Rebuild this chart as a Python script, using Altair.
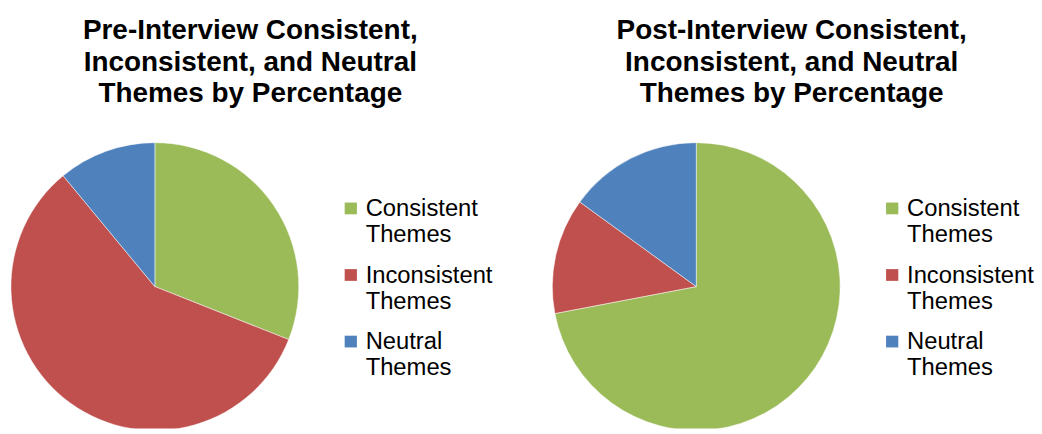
import altair as alt
import pandas as pd

themes = ["Consistent Themes", "Inconsistent Themes", "Neutral Themes"]
pre_values = [31, 58, 11]
post_values = [72, 13, 15]
colors = ["#9BBB59", "#C0504D", "#4F81BD"]
pre_title = ["Pre-Interview Consistent,", "Inconsistent, and Neutral", "Themes by Percentage"]
post_title = ["Post-Interview Consistent,", "Inconsistent, and Neutral", "Themes by Percentage"]

FONT = "Liberation Sans"
# square symbol shifted up so it sits beside the first label line
SQUARE = "M-1,-2.24L1,-2.24L1,-0.32L-1,-0.32Z"


def pie(values, title):
    df = pd.DataFrame({"theme": themes, "value": values, "idx": [0, 1, 2]})
    return (
        alt.Chart(df)
        .mark_arc(radius=147, clip=True, stroke="#ffffff", strokeWidth=0.5)
        .encode(
            theta=alt.Theta("value:Q", stack=True),
            order=alt.Order("idx:Q"),
            x=alt.value(150),
            y=alt.value(148),
            color=alt.Color(
                "theme:N",
                scale=alt.Scale(domain=themes, range=colors),
                legend=alt.Legend(
                    title=None,
                    orient="none",
                    legendX=338,
                    legendY=64,
                    padding=0,
                    symbolType=SQUARE,
                    symbolSize=156,
                    symbolStrokeWidth=0,
                    labelFont=FONT,
                    labelFontSize=24.3,
                    labelColor="#000000",
                    labelBaseline="alphabetic",
                    labelOffset=3,
                    labelLimit=400,
                    labelExpr="split(datum.label, ' ')",
                    rowPadding=17,
                ),
            ),
        )
        .properties(
            width=300,
            height=293,
            title=alt.Title(
                text=title,
                font=FONT,
                fontSize=28.5,
                fontWeight="bold",
                lineHeight=32,
                color="#000000",
                anchor="middle",
                frame="bounds",
                baseline="top",
                offset=35,
            ),
        )
    )


chart = (
    alt.hconcat(pie(pre_values, pre_title), pie(post_values, post_title), spacing=58)
    .resolve_scale(color="independent")
    .resolve_legend(color="independent")
    .properties(padding={"top": 4, "left": 0, "right": 0, "bottom": 0})
    .configure_view(stroke=None)
)

chart.save("out.html", embed_options={"renderer": "svg", "actions": False})
